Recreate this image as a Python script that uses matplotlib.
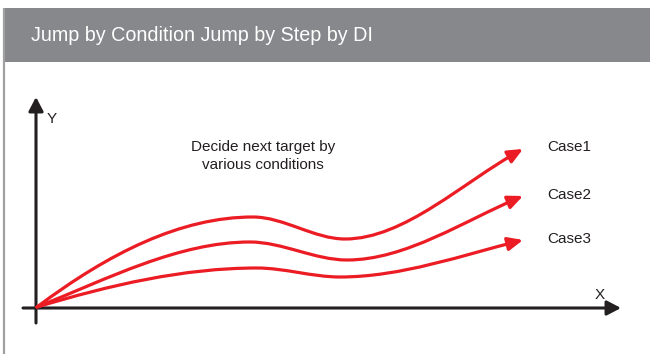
import numpy as np
import matplotlib.pyplot as plt
from matplotlib.path import Path
from matplotlib.patches import FancyArrowPatch, Rectangle

# key points (pixel coords, y grows downward):
# start, peak, trough, arrow tip, with the slope of the curve at each
case_names = ["Case1", "Case2", "Case3"]
case1_x = [37, 253, 345, 523]
case1_y = [307, 217, 239, 149]
case1_slope = [-0.75, 0, 0, -0.55]
case2_x = [37, 250, 347, 523]
case2_y = [307, 242, 260, 196]
case2_slope = [-0.4, 0, 0, -0.42]
case3_x = [37, 257, 340, 523]
case3_y = [307, 268, 277, 240]
case3_slope = [-0.3, 0, 0, -0.25]
label_y = [147, 195, 239]

title = "Jump by Condition Jump by Step by DI"
note = "Decide next target by\nvarious conditions"

RED = "#ec1c24"
INK = "#231f20"
GREY = "#87888c"


def hermite_path(xs, ys, slopes):
    # cubic bezier segments with given end slopes
    verts = [(xs[0], ys[0])]
    codes = [Path.MOVETO]
    for i in range(len(xs) - 1):
        h = (xs[i + 1] - xs[i]) / 3.0
        verts += [(xs[i] + h, ys[i] + slopes[i] * h),
                  (xs[i + 1] - h, ys[i + 1] - slopes[i + 1] * h),
                  (xs[i + 1], ys[i + 1])]
        codes += [Path.CURVE4] * 3
    return Path(verts, codes)


fig = plt.figure(figsize=(6.5, 3.54), dpi=100)
ax = fig.add_axes([0, 0, 1, 1])
ax.set_xlim(0, 650)
ax.set_ylim(354, 0)
ax.axis("off")

# header band and left border
ax.add_patch(Rectangle((3, 8), 650, 54, color=GREY, lw=0))
ax.plot([4, 4], [8, 354], color="#a0a0a3", lw=1.6, solid_capstyle="butt")
ax.text(31, 41, title, color="white", fontsize=14.2, va="baseline",
        family=["Liberation Sans Narrow", "Liberation Sans", "DejaVu Sans"])

# axes arrows
axis_style = "-|>,head_length=0.42,head_width=0.22"
ax.add_patch(FancyArrowPatch((36, 323), (36, 97), arrowstyle=axis_style,
                             mutation_scale=20, color=INK, lw=2.2, shrinkA=0, shrinkB=0))
ax.add_patch(FancyArrowPatch((23, 308), (621, 308), arrowstyle=axis_style,
                             mutation_scale=20, color=INK, lw=2.2, shrinkA=0, shrinkB=0))
ax.text(52, 119, "Y", fontsize=11, color=INK, ha="center", va="center", family="Liberation Sans")
ax.text(600, 295, "X", fontsize=11, color=INK, ha="center", va="center", family="Liberation Sans")

# curves
for xs, ys, sl in [(case1_x, case1_y, case1_slope),
                   (case2_x, case2_y, case2_slope),
                   (case3_x, case3_y, case3_slope)]:
    ax.add_patch(FancyArrowPatch(path=hermite_path(xs, ys, sl),
                                 arrowstyle="-|>,head_length=0.45,head_width=0.2",
                                 mutation_scale=20, color=RED, lw=2.3))

for name, y in zip(case_names, label_y):
    ax.text(547, y, name, fontsize=11, color=INK, va="center", family="Liberation Sans")

ax.text(263, 156, note, fontsize=11, color=INK, ha="center", va="center",
        linespacing=1.35, family="Liberation Sans")

fig.savefig("out.png", dpi=100)
